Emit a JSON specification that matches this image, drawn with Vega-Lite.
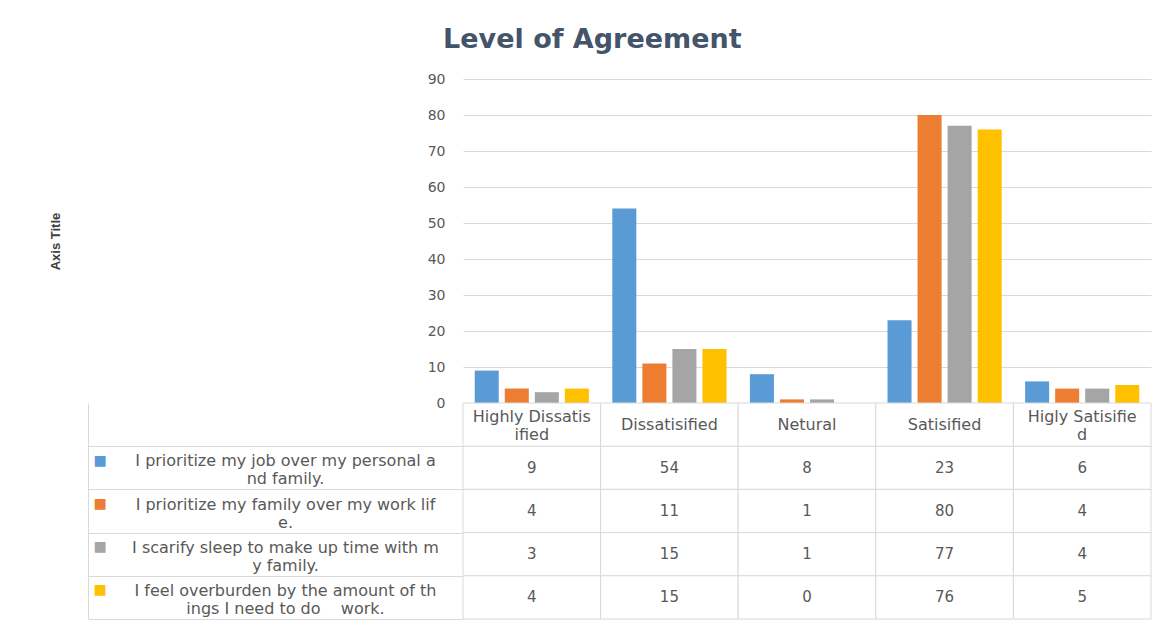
{
  "$schema": "https://vega.github.io/schema/vega-lite/v6.json",
  "background": "white",
  "padding": {"left": 49, "top": 26, "right": 11, "bottom": 13},
  "title": {"text": "Level of Agreement", "font": "DejaVu Sans", "fontSize": 27, "fontWeight": "bold", "color": "#44546A", "anchor": "middle", "offset": 18, "dx": -8},
  "config": {"view": {"stroke": null}, "font": "DejaVu Sans"},
  "spacing": 0,
  "bounds": "flush",
  "data": {"values": [
    {"series": "I prioritize my job over my personal and family.", "category": "Highly Dissatisified", "value": 9},
    {"series": "I prioritize my job over my personal and family.", "category": "Dissatisified", "value": 54},
    {"series": "I prioritize my job over my personal and family.", "category": "Netural", "value": 8},
    {"series": "I prioritize my job over my personal and family.", "category": "Satisified", "value": 23},
    {"series": "I prioritize my job over my personal and family.", "category": "Higly Satisified", "value": 6},
    {"series": "I prioritize my family over my work life.", "category": "Highly Dissatisified", "value": 4},
    {"series": "I prioritize my family over my work life.", "category": "Dissatisified", "value": 11},
    {"series": "I prioritize my family over my work life.", "category": "Netural", "value": 1},
    {"series": "I prioritize my family over my work life.", "category": "Satisified", "value": 80},
    {"series": "I prioritize my family over my work life.", "category": "Higly Satisified", "value": 4},
    {"series": "I scarify sleep to make up time with my family.", "category": "Highly Dissatisified", "value": 3},
    {"series": "I scarify sleep to make up time with my family.", "category": "Dissatisified", "value": 15},
    {"series": "I scarify sleep to make up time with my family.", "category": "Netural", "value": 1},
    {"series": "I scarify sleep to make up time with my family.", "category": "Satisified", "value": 77},
    {"series": "I scarify sleep to make up time with my family.", "category": "Higly Satisified", "value": 4},
    {"series": "I feel overburden by the amount of things I need to do    work.", "category": "Highly Dissatisified", "value": 4},
    {"series": "I feel overburden by the amount of things I need to do    work.", "category": "Dissatisified", "value": 15},
    {"series": "I feel overburden by the amount of things I need to do    work.", "category": "Netural", "value": 0},
    {"series": "I feel overburden by the amount of things I need to do    work.", "category": "Satisified", "value": 76},
    {"series": "I feel overburden by the amount of things I need to do    work.", "category": "Higly Satisified", "value": 5}
  ]},
  "vconcat": [
    {
      "width": 688,
      "height": 324,
      "mark": {"type": "bar"},
      "encoding": {
        "x": {"field": "category", "type": "nominal", "sort": ["Highly Dissatisified", "Dissatisified", "Netural", "Satisified", "Higly Satisified"], "scale": {"paddingInner": 0, "paddingOuter": 0}, "axis": null},
        "xOffset": {"field": "series", "type": "nominal", "sort": ["I prioritize my job over my personal and family.", "I prioritize my family over my work life.", "I scarify sleep to make up time with my family.", "I feel overburden by the amount of things I need to do    work."], "scale": {"paddingInner": 0.2, "paddingOuter": 0.39}},
        "y": {"field": "value", "type": "quantitative", "scale": {"domain": [0, 90]},
          "axis": {"values": [0, 10, 20, 30, 40, 50, 60, 70, 80, 90], "title": "Axis Title", "grid": true, "gridColor": "#d9d9d9", "domain": false, "ticks": false, "labelPadding": 18, "labelFont": "DejaVu Sans", "labelFontSize": 14, "labelColor": "#595959", "titleFont": "Liberation Sans", "titleFontSize": 13, "titleFontWeight": "bold", "titleColor": "#404040", "titlePadding": 365}},
        "color": {"field": "series", "type": "nominal", "sort": ["I prioritize my job over my personal and family.", "I prioritize my family over my work life.", "I scarify sleep to make up time with my family.", "I feel overburden by the amount of things I need to do    work."], "scale": {"range": ["#5B9BD5", "#ED7D31", "#A5A5A5", "#FFC000"]}, "legend": null}
      }
    },
    {
      "width": 688,
      "height": 216,
      "resolve": {"axis": {"y": "independent"}},
      "layer": [
        {
          "mark": {"type": "rect", "fill": "white", "stroke": "#d9d9d9", "strokeWidth": 1},
          "encoding": {
            "x": {"field": "category", "type": "nominal", "sort": ["Highly Dissatisified", "Dissatisified", "Netural", "Satisified", "Higly Satisified"], "scale": {"paddingInner": 0, "paddingOuter": 0}, "axis": null},
            "y": {"field": "series", "type": "nominal", "scale": {"domain": ["hdr", "I prioritize my job over my personal and family.", "I prioritize my family over my work life.", "I scarify sleep to make up time with my family.", "I feel overburden by the amount of things I need to do    work."], "paddingInner": 0, "paddingOuter": 0},
              "axis": {"orient": "left", "title": null, "domain": false, "ticks": true, "tickBand": "extent", "tickSize": 375, "tickColor": {"condition": {"test": "!isValid(datum.value)", "value": "transparent"}, "value": "#d9d9d9"},
                "labelPadding": -197, "labelOffset": -7, "labelAlign": "center", "labelBaseline": "middle", "labelFont": "DejaVu Sans", "labelFontSize": 16, "labelColor": "#595959", "labelLineHeight": 18, "labelLimit": 0,
                "labelExpr": "!isValid(datum.value) || datum.value == 'hdr' ? '' : datum.value == 'I prioritize my job over my personal and family.' ? ['I prioritize my job over my personal a', 'nd family.'] : datum.value == 'I prioritize my family over my work life.' ? ['I prioritize my family over my work lif', 'e.'] : datum.value == 'I scarify sleep to make up time with my family.' ? ['I scarify sleep to make up time with m', 'y family.'] : ['I feel overburden by the amount of th', 'ings I need to do\u00a0\u00a0\u00a0\u00a0work.']"}}
          }
        },
        {
          "transform": [{"filter": "datum.series == 'I prioritize my job over my personal and family.'"}],
          "mark": {"type": "rect", "fill": "white", "stroke": "#d9d9d9", "strokeWidth": 1},
          "encoding": {
            "x": {"field": "category", "type": "nominal", "sort": ["Highly Dissatisified", "Dissatisified", "Netural", "Satisified", "Higly Satisified"], "axis": null},
            "y": {"datum": "hdr", "type": "nominal", "axis": null}
          }
        },
        {
          "mark": {"type": "text", "font": "DejaVu Sans", "fontSize": 15, "color": "#595959", "align": "center", "baseline": "middle"},
          "encoding": {
            "x": {"field": "category", "type": "nominal", "sort": ["Highly Dissatisified", "Dissatisified", "Netural", "Satisified", "Higly Satisified"], "axis": null},
            "y": {"field": "series", "type": "nominal",
              "axis": {"orient": "left", "offset": 375, "title": null, "domain": true, "domainColor": "#d9d9d9", "ticks": false, "tickSize": 0, "labelPadding": -5, "labelOffset": -7, "labelAlign": "left", "labelBaseline": "middle", "labelFont": "DejaVu Sans", "labelFontSize": 14, "labelLineHeight": 18,
                "labelExpr": "!isValid(datum.value) || datum.value == 'hdr' ? '' : ['■', '']",
                "labelColor": {"condition": [
                  {"test": "datum.value == 'I prioritize my job over my personal and family.'", "value": "#5B9BD5"},
                  {"test": "datum.value == 'I prioritize my family over my work life.'", "value": "#ED7D31"},
                  {"test": "datum.value == 'I scarify sleep to make up time with my family.'", "value": "#A5A5A5"}
                ], "value": "#FFC000"}}},
            "text": {"field": "value", "type": "quantitative"}
          }
        },
        {
          "transform": [
            {"filter": "datum.series == 'I prioritize my job over my personal and family.' && length(datum.category) > 15"},
            {"calculate": "slice(datum.category, 0, 15) + '\\n' + slice(datum.category, 15)", "as": "header"}
          ],
          "mark": {"type": "text", "font": "DejaVu Sans", "fontSize": 16, "color": "#595959", "align": "center", "baseline": "middle", "lineBreak": "\n", "lineHeight": 18, "dy": -8},
          "encoding": {
            "x": {"field": "category", "type": "nominal", "sort": ["Highly Dissatisified", "Dissatisified", "Netural", "Satisified", "Higly Satisified"], "axis": null},
            "y": {"datum": "hdr", "type": "nominal", "axis": null},
            "text": {"field": "header", "type": "nominal"}
          }
        },
        {
          "transform": [
            {"filter": "datum.series == 'I prioritize my job over my personal and family.' && length(datum.category) <= 15"}
          ],
          "mark": {"type": "text", "font": "DejaVu Sans", "fontSize": 16, "color": "#595959", "align": "center", "baseline": "middle"},
          "encoding": {
            "x": {"field": "category", "type": "nominal", "sort": ["Highly Dissatisified", "Dissatisified", "Netural", "Satisified", "Higly Satisified"], "axis": null},
            "y": {"datum": "hdr", "type": "nominal", "axis": null},
            "text": {"field": "category", "type": "nominal"}
          }
        }
      ]
    }
  ]
}
